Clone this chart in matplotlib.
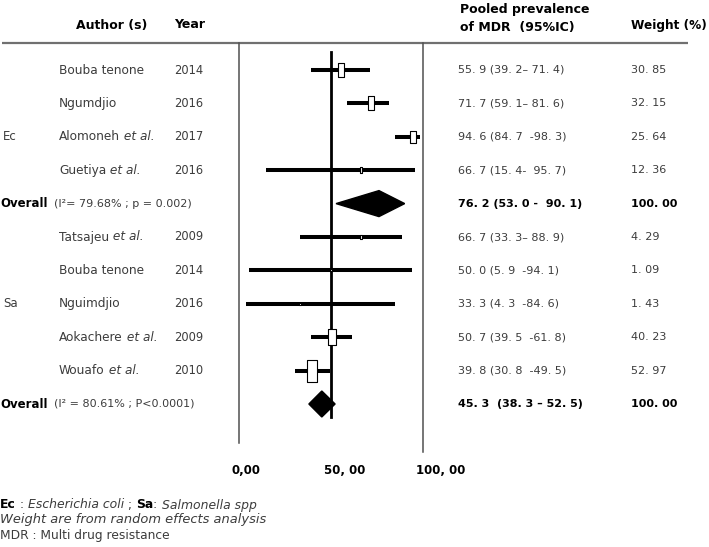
import matplotlib
matplotlib.use("Agg")
import matplotlib.pyplot as plt
from matplotlib.path import Path
import numpy as np

# ---------------- data ----------------
groups = ["Ec", "Sa"]
authors = ["Bouba tenone", "Ngumdjio", "Alomoneh", "Guetiya",
           "Tatsajeu", "Bouba tenone", "Nguimdjio", "Aokachere", "Wouafo"]
et_al = [False, False, True, True, True, False, False, True, True]
years = ["2014", "2016", "2017", "2016", "2009", "2014", "2016", "2009", "2010"]
study_group = ["Ec", "Ec", "Ec", "Ec", "Sa", "Sa", "Sa", "Sa", "Sa"]
est = [55.9, 71.7, 94.6, 66.7, 66.7, 50.0, 33.3, 50.7, 39.8]
lo = [39.2, 59.1, 84.7, 15.4, 33.3, 5.9, 4.3, 39.5, 30.8]
hi = [71.4, 81.6, 98.3, 95.7, 88.9, 94.1, 84.6, 61.8, 49.5]
weights = [30.85, 32.15, 25.64, 12.36, 4.29, 1.09, 1.43, 40.23, 52.97]
ci_labels = ["55. 9 (39. 2\u2013 71. 4)", "71. 7 (59. 1\u2013 81. 6)",
             "94. 6 (84. 7  -98. 3)", "66. 7 (15. 4-  95. 7)",
             "66. 7 (33. 3\u2013 88. 9)", "50. 0 (5. 9  -94. 1)",
             "33. 3 (4. 3  -84. 6)", "50. 7 (39. 5  -61. 8)",
             "39. 8 (30. 8  -49. 5)"]
weight_labels = ["30. 85", "32. 15", "25. 64", "12. 36",
                 "4. 29", "1. 09", "1. 43", "40. 23", "52. 97"]
overall_est = [76.2, 45.3]
overall_lo = [53.0, 38.3]
overall_hi = [90.1, 52.5]
overall_het = ["(I\u00b2= 79.68% ; p = 0.002)", "(I\u00b2 = 80.61% ; P<0.0001)"]
overall_ci_labels = ["76. 2 (53. 0 -  90. 1)", "45. 3  (38. 3 \u2013 52. 5)"]
overall_weight_labels = ["100. 00", "100. 00"]
ref_value = 50
tick_values = [0, 50, 100]
tick_labels = ["0,00", "50, 00", "100, 00"]

# ---------------- layout helpers ----------------
W, H = 709, 547
X0, SC = 238.0, 1.85      # pixel of value 0, pixels per unit
Y0, DY = 70.0, 33.4       # pixel of row 0, pixels per row

def v(px):
    return (px - X0) / SC

def r(py):
    return (py - Y0) / DY

fig = plt.figure(figsize=(W / 100, H / 100), dpi=100)
ax = fig.add_axes([0, 0, 1, 1])
ax.set_xlim(v(0), v(W))
ax.set_ylim(r(H), r(0))
ax.axis("off")
renderer = fig.canvas.get_renderer()

FONT = "DejaVu Sans"
GREY = "#3c3c3c"

def seg_text(x_px, y_px, parts, size=8.5, gap=0.0):
    x = x_px
    for s, kw in parts:
        kw2 = dict(color=GREY, fontsize=size, family=FONT)
        kw2.update(kw)
        t = ax.text(v(x), r(y_px), s, ha="left", va="center", **kw2)
        bb = t.get_window_extent(renderer)
        x += bb.width + gap
    return x

# rows
ri = 0
study_rows = []
overall_rows = []
for g in groups:
    for i, sg in enumerate(study_group):
        if sg == g:
            study_rows.append(ri)
            ri += 1
    overall_rows.append(ri)
    ri += 1
study_rows = np.array(study_rows)

# ---------------- header ----------------
hdr = dict(color="black", fontweight="bold", fontsize=9, family=FONT)
ax.text(v(76), r(25), "Author (s)", ha="left", va="center", **hdr)
ax.text(v(174), r(25), "Year", ha="left", va="center", **hdr)
ax.text(v(460), r(10), "Pooled prevalence", ha="left", va="center", **hdr)
ax.text(v(460), r(27), "of MDR  (95%IC)", ha="left", va="center", **hdr)
ax.text(v(631), r(25), "Weight (%)", ha="left", va="center",
        **dict(hdr, fontsize=8.7))
ax.plot([v(2), v(688)], [r(43), r(43)], color="#707070", lw=1.6,
        solid_capstyle="butt")

# frame lines
ax.plot([v(239), v(239)], [r(43), r(443)], color="#505050", lw=1.1)
ax.plot([v(423), v(423)], [r(43), r(452)], color="#505050", lw=1.1)
ax.plot([ref_value, ref_value], [r(52), r(417)], color="black", lw=2.0,
        zorder=3)

# ---------------- study rows ----------------
ax.hlines(study_rows, lo, hi, color="black", lw=2.9, zorder=4)
box = Path([(-0.22, -0.5), (0.22, -0.5), (0.22, 0.5), (-0.22, 0.5), (-0.22, -0.5)],
           [Path.MOVETO, Path.LINETO, Path.LINETO, Path.LINETO, Path.CLOSEPOLY])
for rr, e, w in zip(study_rows, est, weights):
    h_px = 0.37 * w + 2.0
    ax.plot([e], [rr], marker=box, markersize=h_px * 0.72,
            markerfacecolor="white", markeredgecolor="black",
            markeredgewidth=0.8, linestyle="none", zorder=5)

for k, rr in enumerate(study_rows):
    ypx = Y0 + DY * rr
    parts = [(authors[k], {})]
    if et_al[k]:
        parts.append((" et al.", dict(style="italic")))
    seg_text(59, ypx, parts, size=8.7)
    ax.text(v(174), rr, years[k], ha="left", va="center", color=GREY,
            fontsize=8.3, family=FONT)
    ax.text(v(458), rr, ci_labels[k], ha="left", va="center", color=GREY,
            fontsize=8.0, family=FONT)
    ax.text(v(631), rr, weight_labels[k], ha="left", va="center", color=GREY,
            fontsize=8.0, family=FONT)

# group labels (middle study of each group)
for g in groups:
    idx = [k for k, sg in enumerate(study_group) if sg == g]
    mid = study_rows[idx[len(idx) // 2]]
    ax.text(v(3), mid, g, ha="left", va="center", color=GREY, fontsize=8.5,
            family=FONT)

# ---------------- overall rows ----------------
dh = 13.0 / DY
for k, rr in enumerate(overall_rows):
    xs = [overall_lo[k], overall_est[k], overall_hi[k], overall_est[k]]
    ys = [rr, rr - dh, rr, rr + dh]
    ax.fill(xs, ys, color="black", zorder=6)
    ypx = Y0 + DY * rr
    x = seg_text(0, ypx, [("Overall", dict(color="black", fontweight="bold"))])
    seg_text(x + 6, ypx, [(overall_het[k], dict(fontsize=8.0))])
    ax.text(v(458), rr, overall_ci_labels[k], ha="left", va="center",
            color="black", fontweight="bold", fontsize=8.0, family=FONT)
    ax.text(v(631), rr, overall_weight_labels[k], ha="left", va="center",
            color="black", fontweight="bold", fontsize=8.0, family=FONT)

# ---------------- axis tick labels ----------------
for tv, tl in zip(tick_values, tick_labels):
    ax.text(tv - 7 / SC, r(470), tl, ha="left", va="center", color="black",
            fontweight="bold", fontsize=8.5, family=FONT)

# ---------------- footnotes ----------------
seg_text(0, 505, [("Ec", dict(color="black", fontweight="bold")),
                  (" : ", {}),
                  ("Escherichia coli", dict(style="italic")),
                  (" ; ", {}),
                  ("Sa", dict(color="black", fontweight="bold")),
                  (": ", {}),
                  ("Salmonella spp", dict(style="italic"))], size=8.9)
seg_text(0, 520, [("Weight are from random effects analysis", dict(style="italic"))],
         size=9.4)
seg_text(0, 535, [("MDR : Multi drug resistance", {})], size=8.8)

fig.savefig("out.png", dpi=100)
